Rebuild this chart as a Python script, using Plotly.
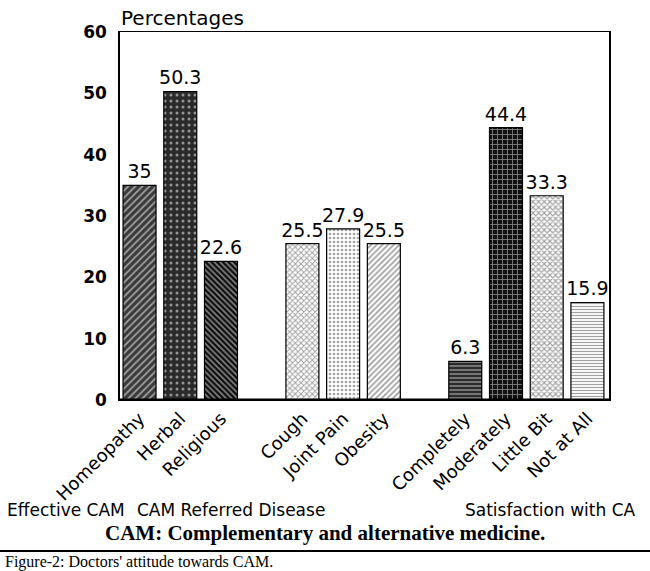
import plotly.graph_objects as go

# data
group_names = ["Effective CAM", "CAM Referred Disease", "Satisfaction with CA"]
effective_cam = ["Homeopathy", "Herbal", "Religious"]
effective_vals = [35, 50.3, 22.6]
disease_cats = ["Cough", "Joint Pain", "Obesity"]
disease_vals = [25.5, 27.9, 25.5]
satisfaction_cats = ["Completely", "Moderately", "Little Bit", "Not at All"]
satisfaction_vals = [6.3, 44.4, 33.3, 15.9]

groups = [
    (effective_cam, effective_vals),
    (disease_cats, disease_vals),
    (satisfaction_cats, satisfaction_vals),
]

# one empty slot between groups
xs, cats, vals = [], [], []
slot = 0
for names, values in groups:
    for n, v in zip(names, values):
        xs.append(slot)
        cats.append(n)
        vals.append(v)
        slot += 1
    slot += 1

# black & white hatch patterns, one per bar
bg = ["#3a3a3a", "#2a2a2a", "#0d0d0d", "#ffffff", "#ffffff", "#ffffff",
      "#2b2b2b", "#111111", "#ffffff", "#ffffff"]
fg = ["#ffffff", "#ffffff", "#4a4a4a", "#444444", "#777777", "#333333",
      "#ffffff", "#ffffff", "#222222", "#333333"]
shapes_ = ["/", ".", "\\", "x", ".", "/", "-", "+", "x", "-"]
psize = [5, 6, 4, 4, 4, 4, 4, 5, 4, 3]
solid = [0.35, 0.2, 0.4, 0.45, 0.35, 0.45, 0.35, 0.3, 0.5, 0.4]

FONT = "DejaVu Sans, Arial, sans-serif"
SERIF = "Times New Roman, Liberation Serif, serif"

fig = go.Figure()
fig.add_trace(go.Bar(
    x=xs, y=vals, width=0.81,
    marker=dict(color=bg, line=dict(color="black", width=1.2),
                pattern=dict(shape=shapes_, fgcolor=fg, bgcolor=bg,
                             size=psize, solidity=solid)),
    text=[str(v) for v in vals], textposition="outside",
    constraintext="none",
    textfont=dict(family=FONT, size=19, color="black"),
    cliponaxis=False,
))

# plot area spans 120..609 px horizontally, 32..400 px vertically
def px_x(p):
    return (p - 120) / 489.0

def px_y(p):
    return (400 - p) / 368.0

annotations = [
    dict(text="Percentages", x=px_x(119), y=px_y(18), xanchor="left",
         font=dict(family=FONT, size=20, color="black")),
    dict(text=group_names[0], x=px_x(66), y=px_y(510),
         font=dict(family=FONT, size=17, color="black")),
    dict(text=group_names[1], x=px_x(231), y=px_y(510),
         font=dict(family=FONT, size=17, color="black")),
    dict(text=group_names[2], x=px_x(550), y=px_y(510),
         font=dict(family=FONT, size=17, color="black")),
    dict(text="<b>CAM: Complementary and alternative medicine.</b>",
         x=px_x(325), y=px_y(533),
         font=dict(family=SERIF, size=21, color="black")),
    dict(text="Figure-2: Doctors' attitude towards CAM.", x=px_x(3), y=px_y(562),
         xanchor="left", font=dict(family=SERIF, size=16, color="black")),
]
for a in annotations:
    a.update(xref="paper", yref="paper", showarrow=False, yanchor="middle")
    a.setdefault("xanchor", "center")

fig.update_layout(
    width=650, height=571,
    margin=dict(l=120, r=41, t=32, b=171),
    paper_bgcolor="white", plot_bgcolor="white",
    showlegend=False,
    annotations=annotations,
    shapes=[
        dict(type="line", xref="paper", yref="y", x0=0, x1=1, y0=0, y1=0,
             line=dict(color="black", width=3)),
        dict(type="line", xref="paper", yref="paper", x0=px_x(0), x1=px_x(650),
             y0=px_y(551), y1=px_y(551), line=dict(color="black", width=2)),
    ],
)
fig.update_xaxes(
    tickvals=xs, ticktext=cats, tickangle=-45, range=[-0.48, 11.53],
    tickfont=dict(family=FONT, size=18, color="black"),
    showline=True, mirror=True, linecolor="black", linewidth=1,
    showgrid=False, zeroline=False, ticks="",
)
fig.update_yaxes(
    range=[0, 60], dtick=10, ticks="", ticklabelstandoff=8,
    tickfont=dict(family=FONT, size=17, color="black", weight="bold"),
    showline=True, mirror=True, linecolor="black", linewidth=1.5,
    showgrid=False, zeroline=False,
)

# drop the page's default body margin so the figure sits at the window corner
fig.write_html("out.html", config={"displayModeBar": False},
               post_script="document.body.style.margin='0';")
